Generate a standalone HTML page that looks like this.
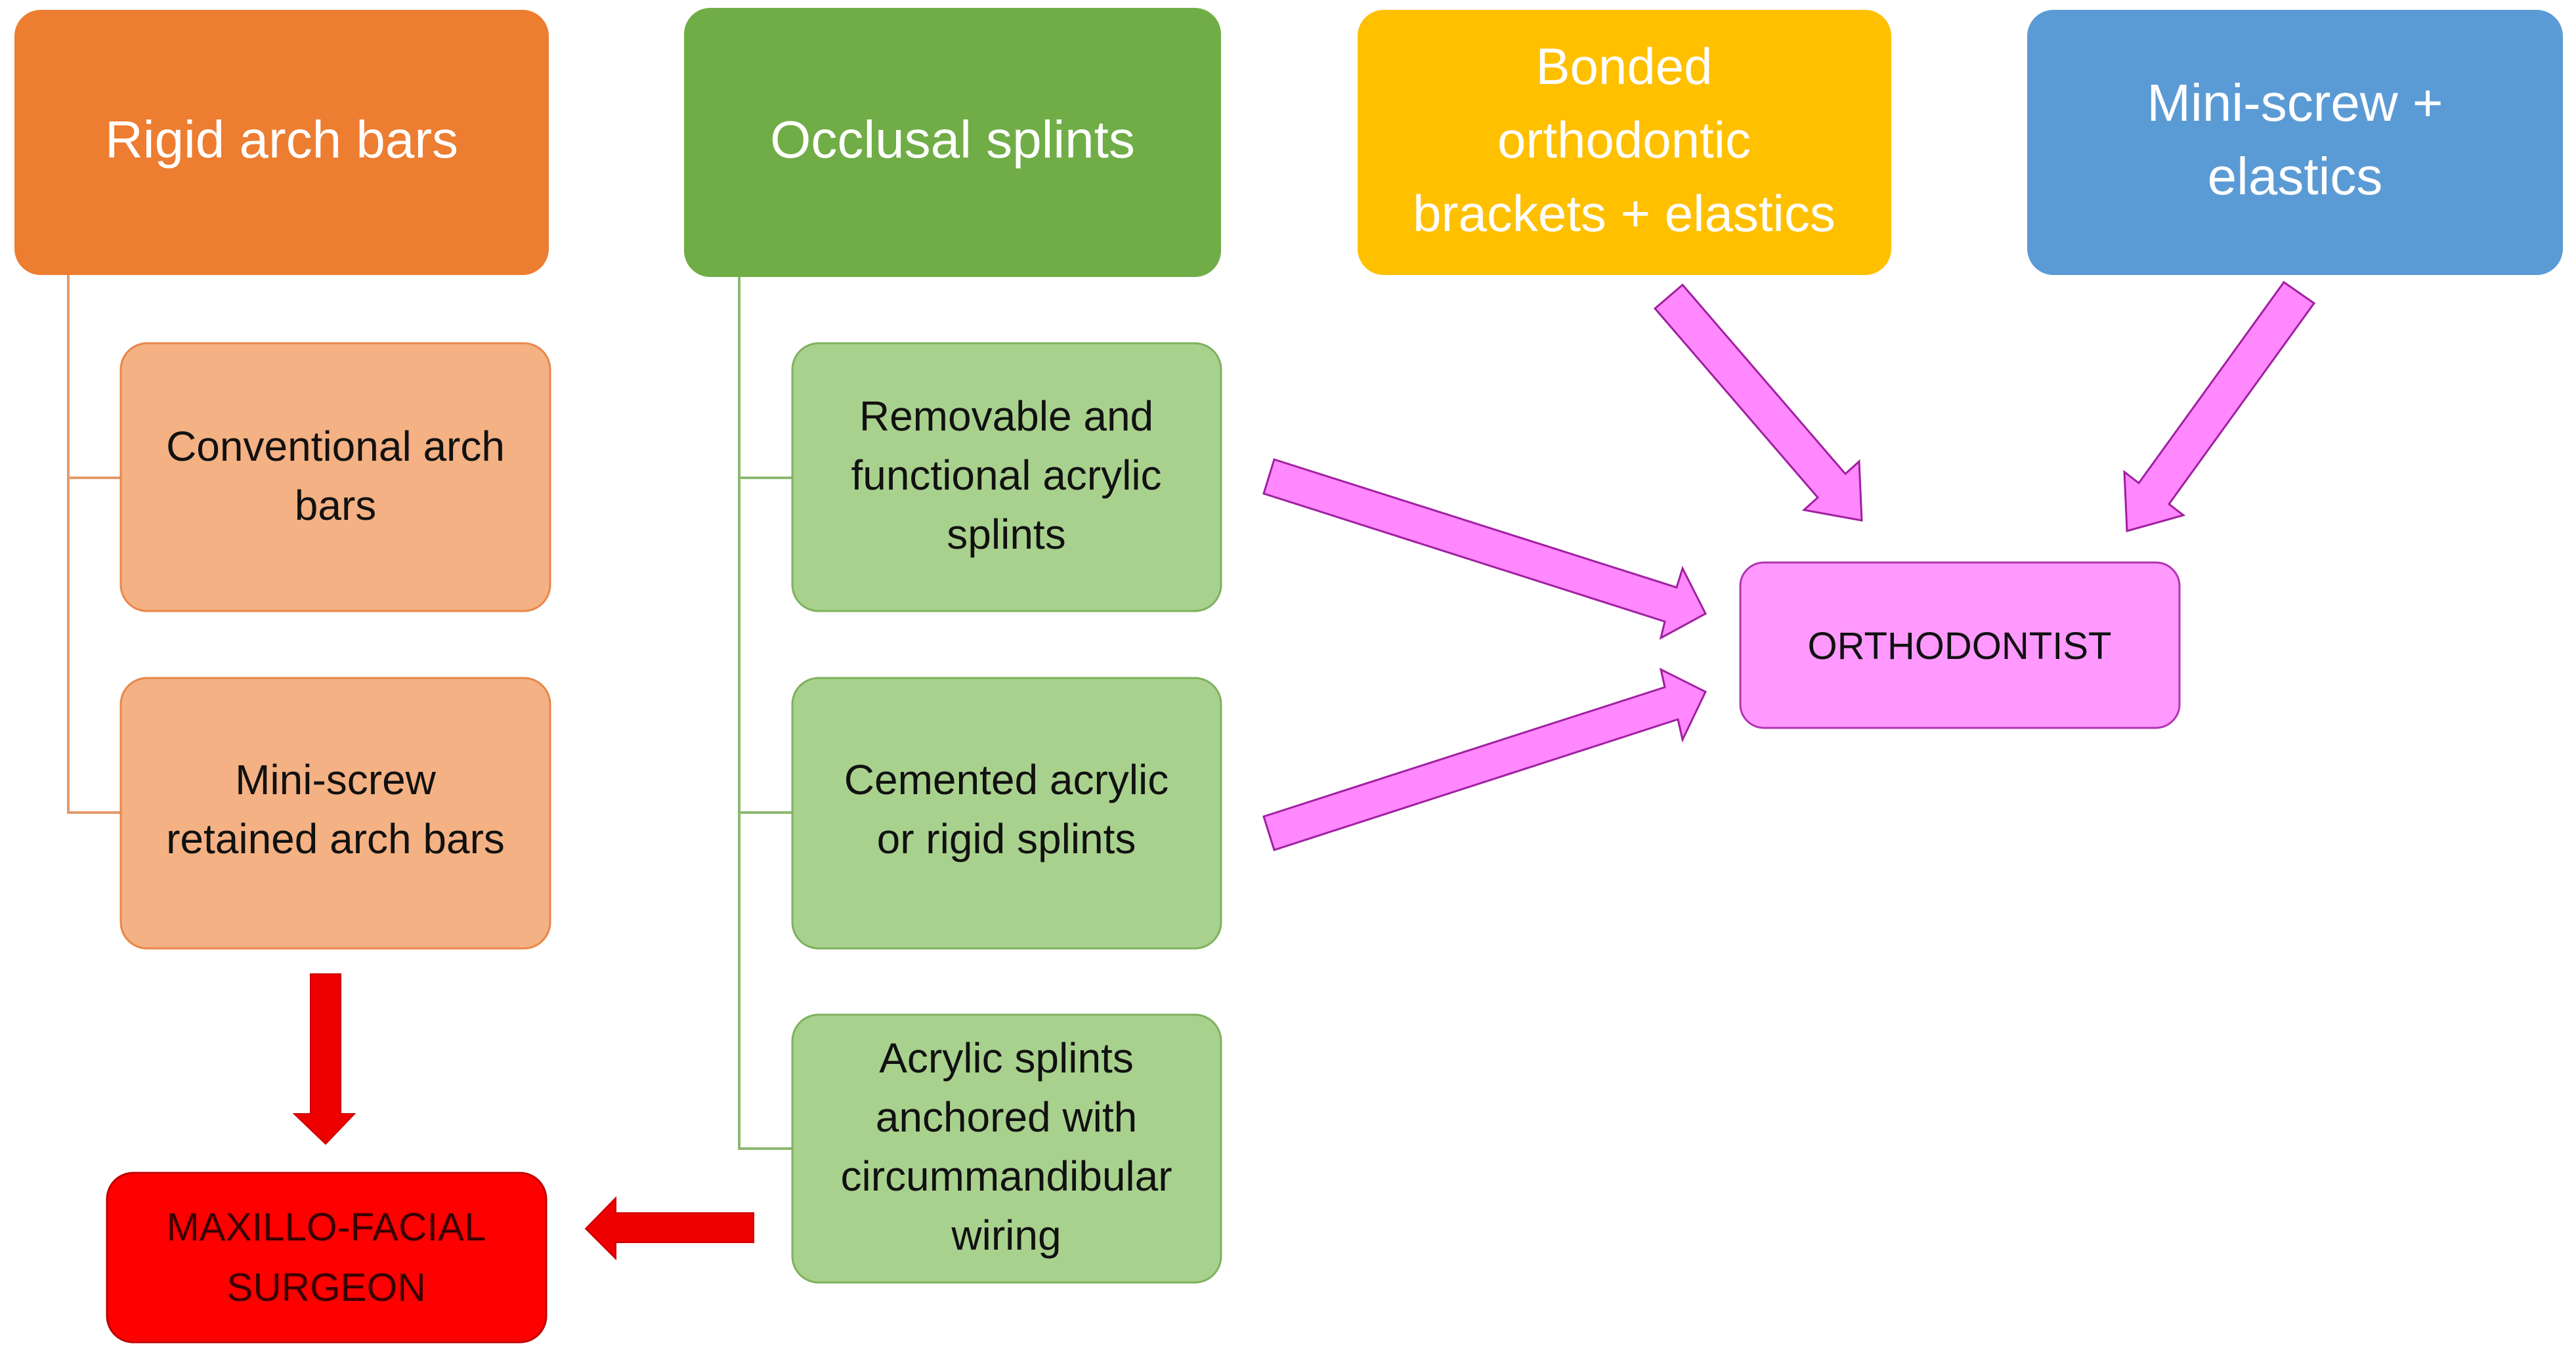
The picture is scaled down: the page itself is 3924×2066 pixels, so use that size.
<!DOCTYPE html>
<html><head><meta charset="utf-8"><style>
html,body{margin:0;padding:0;background:#fff;}
svg{display:block;}
text{font-family:"Liberation Sans",sans-serif;}
</style></head><body>
<svg width="3924" height="2066" viewBox="0 0 3924 2066" xmlns="http://www.w3.org/2000/svg">
<rect width="3924" height="2066" fill="#fff"/>
<!-- connectors -->
<polyline points="104,419 104,1238 184,1238" fill="none" stroke="#E39A6A" stroke-width="4"/>
<line x1="104" y1="728" x2="184" y2="728" stroke="#E39A6A" stroke-width="4"/>
<polyline points="1126,422 1126,1750 1207,1750" fill="none" stroke="#8CB870" stroke-width="4"/>
<line x1="1126" y1="728" x2="1207" y2="728" stroke="#8CB870" stroke-width="4"/>
<line x1="1126" y1="1238" x2="1207" y2="1238" stroke="#8CB870" stroke-width="4"/>

<!-- top boxes -->
<rect x="22" y="15" width="814" height="404" rx="40" fill="#ED7D31"/>
<text x="429" y="240" font-size="80" fill="#fff" text-anchor="middle">Rigid arch bars</text>
<rect x="1042" y="12" width="818" height="410" rx="40" fill="#70AD47"/>
<text x="1451" y="240" font-size="80" fill="#fff" text-anchor="middle">Occlusal splints</text>
<rect x="2068" y="15" width="813" height="404" rx="40" fill="#FFC000"/>
<text x="2474" y="128" font-size="78" fill="#fff" text-anchor="middle">Bonded</text>
<text x="2474" y="240" font-size="78" fill="#fff" text-anchor="middle">orthodontic</text>
<text x="2474" y="352" font-size="78" fill="#fff" text-anchor="middle">brackets + elastics</text>
<rect x="3088" y="15" width="816" height="404" rx="40" fill="#5B9BD5"/>
<text x="3496" y="184" font-size="80" fill="#fff" text-anchor="middle">Mini-screw +</text>
<text x="3496" y="296" font-size="80" fill="#fff" text-anchor="middle">elastics</text>

<!-- sub boxes orange -->
<rect x="184" y="523" width="654" height="408" rx="40" fill="#F4B183" stroke="#E8874A" stroke-width="3"/>
<text x="511" y="702" font-size="64" fill="#111" text-anchor="middle">Conventional arch</text>
<text x="511" y="792" font-size="64" fill="#111" text-anchor="middle">bars</text>
<rect x="184" y="1033" width="654" height="412" rx="40" fill="#F4B183" stroke="#E8874A" stroke-width="3"/>
<text x="511" y="1210" font-size="64" fill="#111" text-anchor="middle">Mini-screw</text>
<text x="511" y="1300" font-size="64" fill="#111" text-anchor="middle">retained arch bars</text>

<!-- sub boxes green -->
<rect x="1207" y="523" width="653" height="408" rx="40" fill="#A9D18E" stroke="#7FB15E" stroke-width="3"/>
<text x="1533" y="656" font-size="64" fill="#111" text-anchor="middle">Removable and</text>
<text x="1533" y="746" font-size="64" fill="#111" text-anchor="middle">functional acrylic</text>
<text x="1533" y="836" font-size="64" fill="#111" text-anchor="middle">splints</text>
<rect x="1207" y="1033" width="653" height="412" rx="40" fill="#A9D18E" stroke="#7FB15E" stroke-width="3"/>
<text x="1533" y="1210" font-size="64" fill="#111" text-anchor="middle">Cemented acrylic</text>
<text x="1533" y="1300" font-size="64" fill="#111" text-anchor="middle">or rigid splints</text>
<rect x="1207" y="1546" width="653" height="408" rx="40" fill="#A9D18E" stroke="#7FB15E" stroke-width="3"/>
<text x="1533" y="1634" font-size="64" fill="#111" text-anchor="middle">Acrylic splints</text>
<text x="1533" y="1724" font-size="64" fill="#111" text-anchor="middle">anchored with</text>
<text x="1533" y="1814" font-size="64" fill="#111" text-anchor="middle">circummandibular</text>
<text x="1533" y="1904" font-size="64" fill="#111" text-anchor="middle">wiring</text>

<!-- orthodontist -->
<rect x="2651" y="857" width="669" height="252" rx="36" fill="#FF99FF" stroke="#B233B2" stroke-width="3"/>
<text x="2985" y="1004" font-size="58" fill="#111" text-anchor="middle">ORTHODONTIST</text>

<!-- maxillo -->
<rect x="163" y="1787" width="669" height="258" rx="40" fill="#FF0000" stroke="#C00000" stroke-width="3"/>
<text x="497" y="1890" font-size="60" fill="#3a0000" text-anchor="middle">MAXILLO-FACIAL</text>
<text x="497" y="1982" font-size="60" fill="#3a0000" text-anchor="middle">SURGEON</text>

<!-- pink arrows -->
<g fill="#FF88FF" stroke="#A020A0" stroke-width="3" stroke-linejoin="miter">
<polygon points="1941,700 2554,895 2563,866 2598,935 2530,972 2536,947 1925,752"/>
<polygon points="1925,1244 2536,1047 2530,1020 2598,1054 2563,1127 2556,1096 1941,1295"/>
<polygon points="2563,434 2811,722 2832,703 2836,793 2748,777 2769,758 2521,470"/>
<polygon points="3525,462 3304,768 3326,785 3240,809 3236,719 3258,736 3479,430"/>
</g>

<!-- red arrows -->
<g fill="#EE0000" stroke="#CC0000" stroke-width="2">
<polygon points="473,1484 519,1484 519,1697 540,1697 496,1743 448,1697 473,1697"/>
<polygon points="1148,1848 1148,1893 938,1893 938,1918 892,1872 938,1825 938,1848"/>
</g>
</svg>
</body></html>
